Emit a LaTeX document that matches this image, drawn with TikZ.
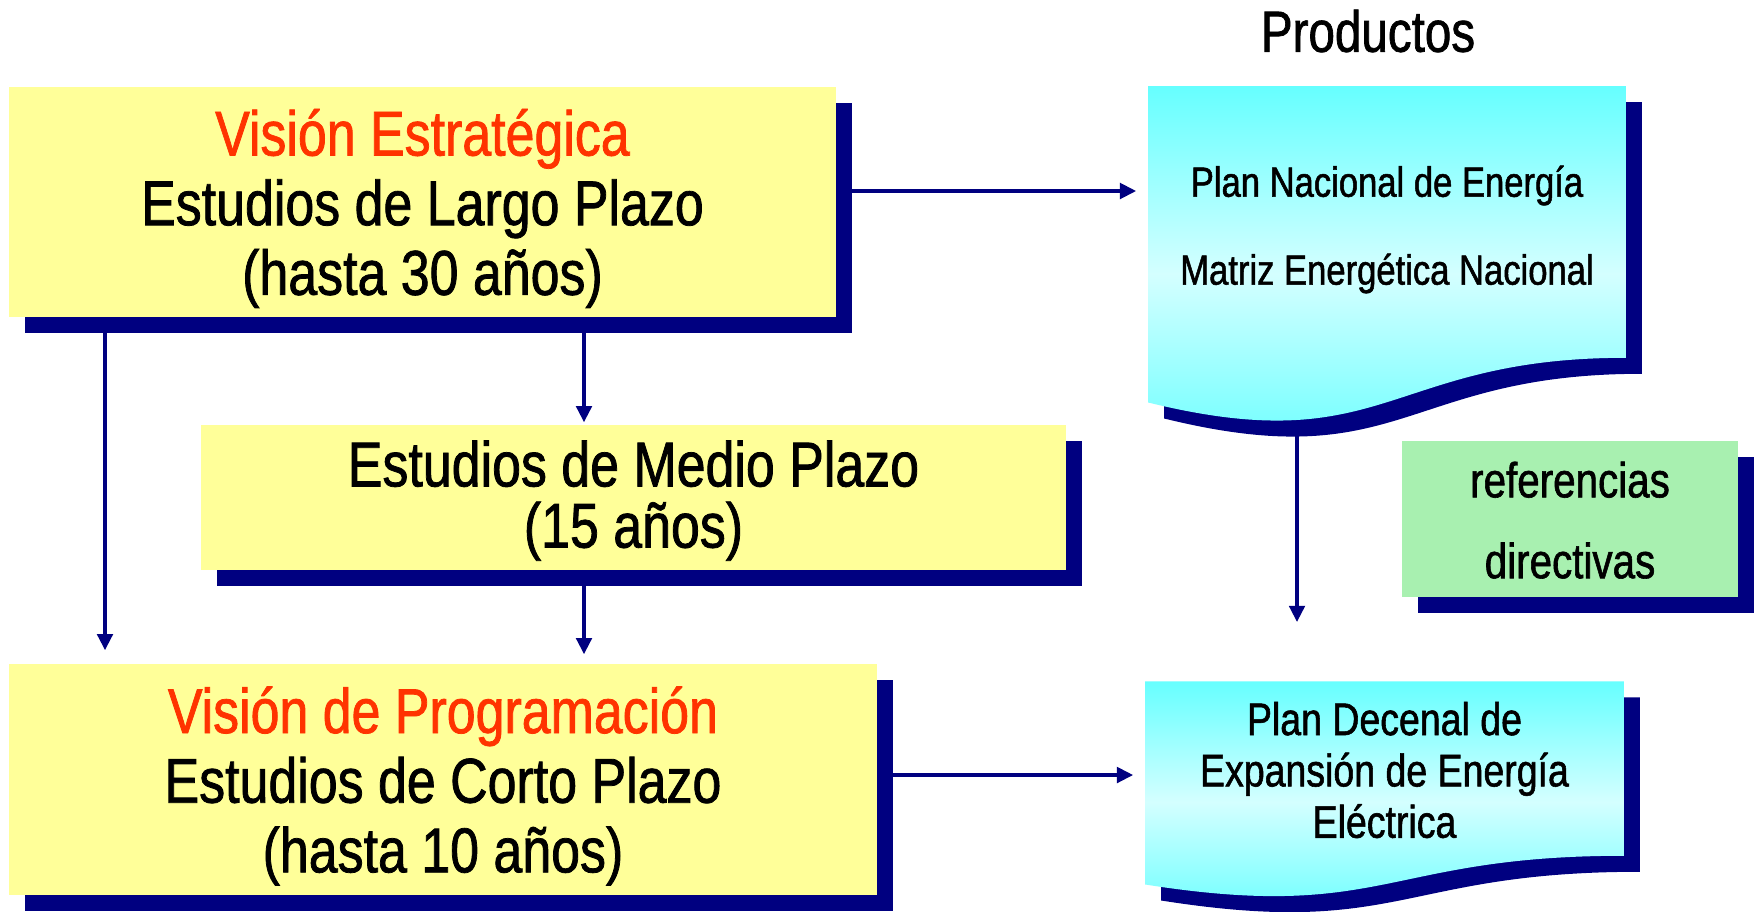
\documentclass[tikz,border=0pt]{standalone}
\usepackage{fontspec}
\setmainfont[FakeStretch=0.82, FakeBold=1.2]{Liberation Sans}
\usepackage{tikz}
\usetikzlibrary{arrows.meta, shadows, calc, backgrounds}
\definecolor{vyellow}{HTML}{FFFF99}
\definecolor{vnavy}{HTML}{000080}
\definecolor{vred}{HTML}{FF3300}
\definecolor{vgreen}{HTML}{A8F0B0}
\definecolor{vcyan}{HTML}{66FFFF}
\definecolor{vlight}{HTML}{D4FFFF}
\newcommand{\docpath}[1]{(#1.north west) -- (#1.north east) -- (#1.south east)
    .. controls (#1.south) and ($(#1.north)!1.381!(#1.south)$)
    .. ($(#1.north west)!1.1646!(#1.south west)$) -- cycle}
\newcommand{\topstrut}[1]{\rule{0pt}{#1}}
\tikzstyle{block} = [rectangle, fill=vyellow, align=center, inner sep=0pt,
    font=\fontsize{18}{19.8}\selectfont,
    drop shadow={shadow xshift=1.6mm, shadow yshift=-1.6mm, fill=vnavy, opacity=1}]
\tikzstyle{note} = [rectangle, fill=vgreen, align=center, inner sep=0pt,
    font=\fontsize{14}{23}\selectfont,
    drop shadow={shadow xshift=1.6mm, shadow yshift=-1.6mm, fill=vnavy, opacity=1}]
\tikzstyle{doc} = [rectangle, align=center, inner sep=0pt]
\tikzstyle{arrow} = [line width=1pt, draw=vnavy, -{Triangle[length=4.6pt, width=4.4pt]}]
\tikzstyle{docshade} = [top color=vcyan, bottom color=vcyan, middle color=vlight]
\tikzstyle{docshadow} = [fill=vnavy, transform canvas={shift={(1.6mm,-1.6mm)}}]

\begin{document}
\begin{tikzpicture}[x=0.01cm, y=-0.01cm]
    \useasboundingbox (0,0) rectangle (1755,911);

    \node [block, minimum width=8.27cm, minimum height=2.30cm] (largo) at (422.5,202) {\topstrut{16.9pt}\textcolor{vred}{Visión Estratégica}\\Estudios de Largo Plazo\\(hasta 30 años)};
    \node [block, minimum width=8.65cm, minimum height=1.45cm] (medio) at (633.5,497.5) {\topstrut{14.8pt}Estudios de Medio Plazo\\[-2.4pt](15 años)};
    \node [block, minimum width=8.68cm, minimum height=2.31cm] (corto) at (443,779.5) {\topstrut{16.9pt}\textcolor{vred}{Visión de Programación}\\Estudios de Corto Plazo\\(hasta 10 años)};

    \node [doc, minimum width=4.76cm, minimum height=2.70cm, font=\fontsize{12}{25}\selectfont] (plan) at (1387,222) {\topstrut{13.1pt}Plan Nacional de Energía\\Matriz Energética Nacional};
    \node [doc, minimum width=4.77cm, minimum height=1.73cm, font=\fontsize{13}{14.6}\selectfont] (decenal) at (1384.5,768.5) {\topstrut{10.3pt}Plan Decenal de\\Expansión de Energía\\Eléctrica};
    \node [note, minimum width=3.36cm, minimum height=1.56cm] (refs) at (1570,519) {\topstrut{10.8pt}referencias\\directivas};
    \node [font=\fontsize{16.5}{20}\selectfont] (prod) at (1368,31) {Productos};

    \coordinate (v1) at (105,0);
    \coordinate (v2) at (584,0);
    \coordinate (v3) at (1297,622);

    \begin{pgfonlayer}{background}
        \draw [arrow] (plan.south -| v3) -- (v3);
        \fill [docshadow] \docpath{plan};
        \shade [docshade] \docpath{plan};
        \fill [docshadow] \docpath{decenal};
        \shade [docshade] \docpath{decenal};
    \end{pgfonlayer}

    \draw [arrow, shorten >=1.3mm] (largo.south -| v1) -- (corto.north -| v1);
    \draw [arrow, shorten >=0.2mm] (largo.south -| v2) -- (medio.north -| v2);
    \draw [arrow, shorten >=0.9mm] (medio.south -| v2) -- (corto.north -| v2);
    \draw [arrow, shorten >=1.2mm] ([yshift=1.1mm]largo.east) -- ([yshift=1.1mm]largo.east -| plan.west);
    \draw [arrow, shorten >=1.2mm] ([yshift=0.45mm]corto.east) -- ([yshift=0.45mm]corto.east -| decenal.west);
\end{tikzpicture}
\end{document}
